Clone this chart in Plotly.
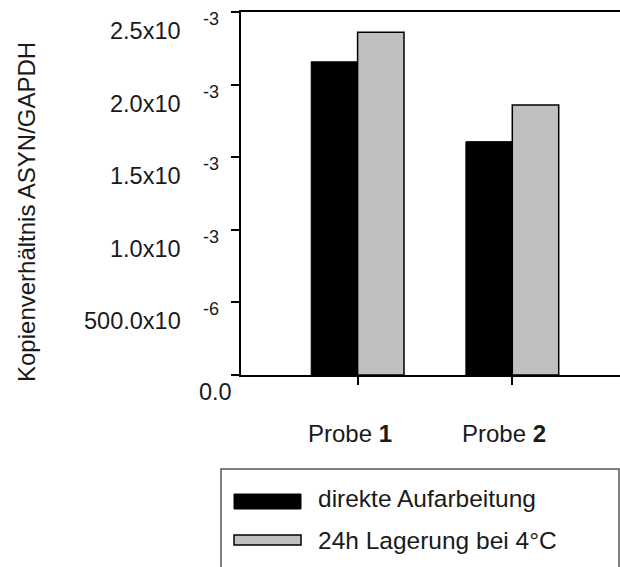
import plotly.graph_objects as go

# ---- data ----
categories = ["Probe 1", "Probe 2"]
category_labels = ["Probe <b>1</b>", "Probe <b>2</b>"]
direkte = [2.157e-3, 1.607e-3]
lagerung = [2.361e-3, 1.860e-3]
series_names = ["direkte Aufarbeitung", "24h Lagerung bei 4°C"]
ytick_vals = [0.0, 500e-6, 1.0e-3, 1.5e-3, 2.0e-3, 2.5e-3]
ytick_main = ["0.0", "500.0x10", "1.0x10", "1.5x10", "2.0x10", "2.5x10"]
ytick_exp = ["", "-6", "-3", "-3", "-3", "-3"]
y_title = "Kopienverhältnis ASYN/GAPDH"

W, H = 620, 567
L, R, T, B = 241, 0, 12, 192
PW, PH = W - L - R, H - T - B
FONT = "Liberation Sans, Arial, sans-serif"
TXT = "#1a1a1a"

def px(x):
    return (x - L) / PW

def py(y):
    return (H - B - y) / PH

fig = go.Figure()
fig.add_trace(go.Bar(x=categories, y=direkte, name=series_names[0],
                     marker=dict(color="#000000", line=dict(color="#000000", width=1))))
fig.add_trace(go.Bar(x=categories, y=lagerung, name=series_names[1],
                     marker=dict(color="#c0c0c0", line=dict(color="#000000", width=1.5))))

ann = []
# y tick labels
for v, m, e in zip(ytick_vals, ytick_main, ytick_exp):
    if e == "":
        ann.append(dict(x=0, xref="paper", y=v, yref="y", text=m, showarrow=False,
                        xanchor="right", yanchor="middle", xshift=-7, yshift=-17,
                        font=dict(family=FONT, size=23.5, color=TXT)))
    else:
        ann.append(dict(x=0, xref="paper", y=v, yref="y", text=m, showarrow=False,
                        xanchor="right", yanchor="middle", xshift=-58, yshift=-19,
                        font=dict(family=FONT, size=23.5, color=TXT)))
        ann.append(dict(x=0, xref="paper", y=v, yref="y", text=e, showarrow=False,
                        xanchor="left", yanchor="middle", xshift=-40, yshift=-7,
                        font=dict(family=FONT, size=18, color=TXT)))
# x category labels
for c, lab in zip(categories, category_labels):
    ann.append(dict(x=c, xref="x", y=0, yref="paper", text=lab, showarrow=False,
                    xanchor="center", yanchor="middle", xshift=-8, yshift=-58,
                    font=dict(family=FONT, size=24, color=TXT)))
# y title
ann.append(dict(x=px(26), xref="paper", y=py(212), yref="paper", text=y_title,
                showarrow=False, textangle=-90, xanchor="center", yanchor="middle",
                font=dict(family=FONT, size=24, color=TXT)))
# legend texts
ann.append(dict(x=px(316), xref="paper", y=py(499), yref="paper", text=series_names[0],
                showarrow=False, xanchor="left", yanchor="middle",
                font=dict(family=FONT, size=24.5, color=TXT)))
ann.append(dict(x=px(316), xref="paper", y=py(540), yref="paper", text=series_names[1],
                showarrow=False, xanchor="left", yanchor="middle",
                font=dict(family=FONT, size=24.5, color=TXT)))

shapes = [
    # legend box
    dict(type="rect", xref="paper", yref="paper", x0=px(221), x1=px(619),
         y0=py(590), y1=py(469), line=dict(color="#555555", width=1.5),
         fillcolor="rgba(0,0,0,0)"),
    # legend swatches
    dict(type="rect", xref="paper", yref="paper", x0=px(234), x1=px(301),
         y0=py(509), y1=py(494), line=dict(color="#000000", width=1),
         fillcolor="#000000"),
    dict(type="rect", xref="paper", yref="paper", x0=px(234), x1=px(301),
         y0=py(545), y1=py(535), line=dict(color="#000000", width=1.5),
         fillcolor="#c0c0c0"),
]

cat_step = 154.7
x0 = (L - 357.6) / cat_step
x1 = (W - R - 357.6) / cat_step

fig.update_layout(
    width=W, height=H,
    margin=dict(l=L, r=R, t=T, b=B, pad=0),
    paper_bgcolor="white", plot_bgcolor="white",
    barmode="group", bargap=0.4, bargroupgap=0,
    showlegend=False,
    annotations=ann, shapes=shapes,
    font=dict(family=FONT, color=TXT),
    xaxis=dict(range=[x0, x1], showline=True, linecolor="#000000", linewidth=1.5,
               mirror=True, ticks="outside", ticklen=8, tickwidth=1.5, tickcolor="#000000",
               showticklabels=False, showgrid=False, zeroline=False),
    yaxis=dict(range=[0, 2.5e-3], showline=True, linecolor="#000000", linewidth=1.5,
               ticks="outside", ticklen=8, tickwidth=1.5, tickcolor="#000000",
               tickvals=ytick_vals, showticklabels=False, showgrid=False, zeroline=False),
)

fig.write_html("out.html")
